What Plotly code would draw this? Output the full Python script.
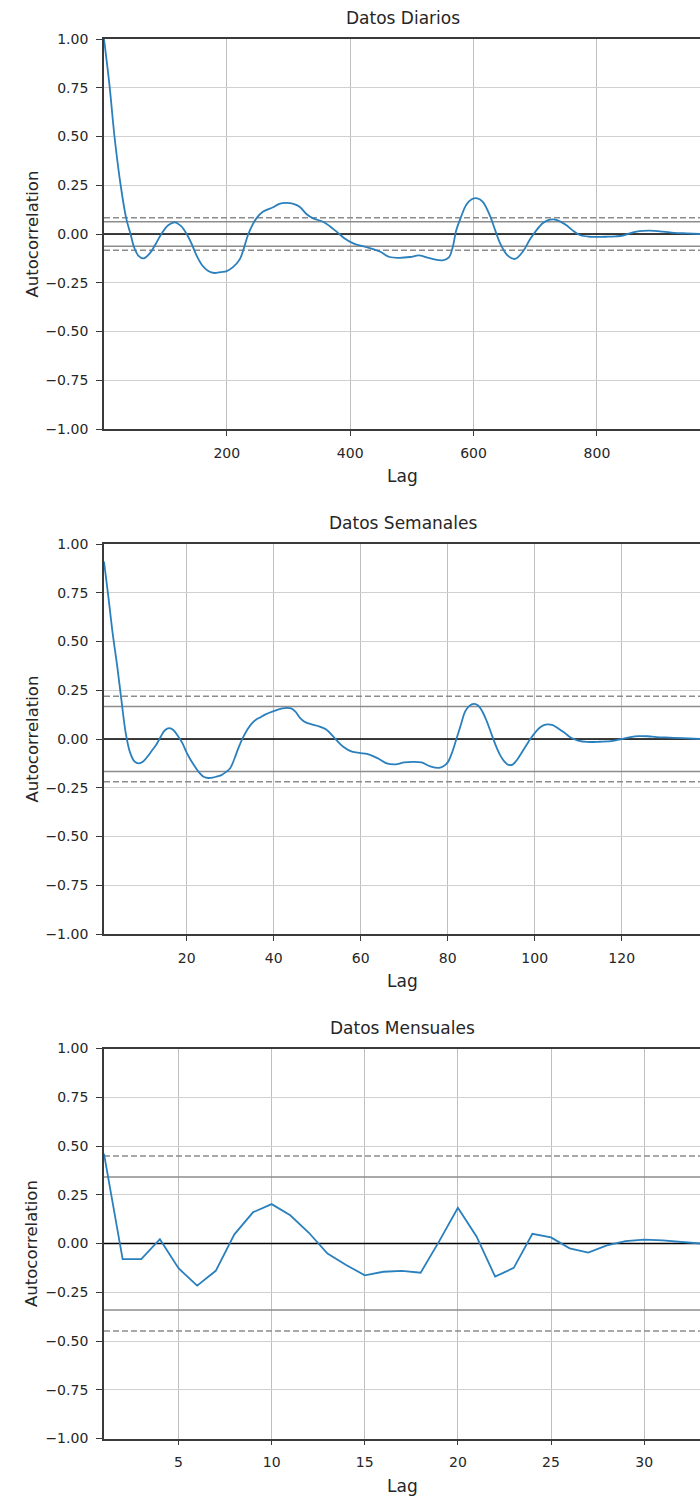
import numpy as np
import plotly.graph_objects as go

# ---------------- data ----------------
Z95 = 1.959963984540054
Z99 = 2.5758293035489004

titles = ["Datos Diarios", "Datos Semanales", "Datos Mensuales"]

daily_n = 967
daily_lag = [1, 10, 18, 28, 37, 44, 50, 57, 65, 75, 85, 94, 105, 116, 126, 135, 143, 151,
             160, 170, 180, 190, 200, 210, 221, 228, 235, 248, 259, 275, 285, 297, 308, 318,
             330, 340, 356, 367, 378, 390, 405, 427, 448, 464, 480, 497, 512, 530, 550, 560,
             566, 572, 580, 588, 597, 606, 615, 627, 635, 643, 655, 667, 680, 691, 702, 712,
             720, 729, 740, 750, 760, 772, 788, 800, 815, 830, 842, 853, 864, 875, 885, 907,
             925, 945, 967]
daily_acf = [1.0, 0.76, 0.5, 0.25, 0.08, 0.0, -0.07, -0.112, -0.125, -0.1, -0.05, 0.0, 0.045,
             0.06, 0.04, 0.0, -0.05, -0.11, -0.16, -0.19, -0.2, -0.195, -0.19, -0.17, -0.13,
             -0.07, 0.0, 0.08, 0.115, 0.137, 0.155, 0.16, 0.155, 0.14, 0.1, 0.08, 0.063, 0.04,
             0.012, -0.02, -0.048, -0.068, -0.09, -0.118, -0.122, -0.118, -0.11, -0.125,
             -0.135, -0.12, -0.07, 0.02, 0.09, 0.149, 0.178, 0.183, 0.165, 0.09, 0.02, -0.048,
             -0.11, -0.128, -0.09, -0.03, 0.02, 0.055, 0.07, 0.075, 0.065, 0.046, 0.02, -0.005,
             -0.014, -0.015, -0.014, -0.012, -0.008, 0.003, 0.012, 0.016, 0.017, 0.012, 0.006,
             0.003, 0.0]

weekly_n = 138
weekly_lag = [1, 2, 3, 4, 5, 6, 7, 8, 9, 10, 11, 12, 13, 14, 15, 16, 17, 18, 19, 20, 21, 22,
              23, 24, 25, 26, 27, 28, 29, 30, 31, 32, 33, 34, 35, 36, 37, 38, 40, 42, 43, 44,
              45, 46, 47, 48, 50, 52, 54, 56, 58, 60, 62, 64, 66, 68, 70, 72, 74, 76, 78, 79,
              80, 81, 82, 83, 84, 85, 86, 87, 88, 89, 90, 91, 92, 93, 94, 95, 96, 97, 98, 99,
              100, 101, 102, 103, 104, 105, 106, 107, 108, 109, 110, 112, 115, 118, 120, 122,
              124, 126, 128, 131, 134, 138]
weekly_acf = [0.91, 0.73, 0.54, 0.38, 0.2, 0.03, -0.07, -0.115, -0.125, -0.115, -0.09, -0.06,
              -0.03, 0.01, 0.045, 0.056, 0.045, 0.015, -0.02, -0.07, -0.11, -0.145, -0.175,
              -0.195, -0.2, -0.198, -0.192, -0.185, -0.17, -0.15, -0.1, -0.04, 0.01, 0.05,
              0.08, 0.1, 0.112, 0.125, 0.143, 0.157, 0.16, 0.157, 0.14, 0.11, 0.09, 0.08,
              0.068, 0.05, 0.005, -0.04, -0.065, -0.072, -0.08, -0.1, -0.125, -0.13, -0.12,
              -0.117, -0.12, -0.14, -0.148, -0.14, -0.12, -0.07, 0.0, 0.07, 0.14, 0.17, 0.18,
              0.172, 0.14, 0.09, 0.03, -0.03, -0.08, -0.115, -0.133, -0.13, -0.105, -0.07,
              -0.035, 0.0, 0.03, 0.055, 0.07, 0.075, 0.072, 0.06, 0.045, 0.03, 0.012, 0.0,
              -0.008, -0.015, -0.014, -0.01, 0.0, 0.01, 0.015, 0.014, 0.01, 0.007, 0.004, 0.0]

monthly_n = 33
monthly_lag = [1, 2, 3, 4, 5, 6, 7, 8, 9, 10, 11, 12, 13, 14, 15, 16, 17, 18, 19, 20, 21, 22,
               23, 24, 25, 26, 27, 28, 29, 30, 31, 32, 33]
monthly_acf = [0.46, -0.08, -0.08, 0.022, -0.127, -0.216, -0.14, 0.047, 0.16, 0.202, 0.145,
               0.055, -0.052, -0.11, -0.163, -0.145, -0.14, -0.15, 0.012, 0.183, 0.036, -0.17,
               -0.125, 0.05, 0.031, -0.025, -0.047, -0.01, 0.012, 0.02, 0.016, 0.009, 0.0]

daily_ticks = [200, 400, 600, 800]
weekly_ticks = [20, 40, 60, 80, 100, 120]
monthly_ticks = [5, 10, 15, 20, 25, 30]
y_ticks = [-1.0, -0.75, -0.5, -0.25, 0.0, 0.25, 0.5, 0.75, 1.0]

# ---------------- figure ----------------
W, H = 700, 1499
LEFT_PX = 104
TOPS_PX = [39, 544, 1048.5]
PLOT_H_PX = 390

FONT = "DejaVu Sans"
TEXT = "#262626"
SPINE = "#3a3a3a"

panels = [
    (daily_lag, daily_acf, daily_n, daily_ticks, "spline"),
    (weekly_lag, weekly_acf, weekly_n, weekly_ticks, "spline"),
    (monthly_lag, monthly_acf, monthly_n, monthly_ticks, "linear"),
]

fig = go.Figure()
layout = dict(
    width=W, height=H,
    margin=dict(l=0, r=0, t=0, b=0),
    paper_bgcolor="white", plot_bgcolor="white",
    showlegend=False,
    font=dict(family=FONT, color=TEXT, size=15),
)
annotations = []

for i, (lags, acf, n, xt, shape) in enumerate(panels):
    k = "" if i == 0 else str(i + 1)
    xa, ya = "x" + k, "y" + k
    top = 1 - TOPS_PX[i] / H
    bot = 1 - (TOPS_PX[i] + PLOT_H_PX) / H

    layout["xaxis" + k] = dict(
        domain=[LEFT_PX / W, 1.0], anchor=ya, range=[1, n],
        tickmode="array", tickvals=xt, ticks="outside", ticklen=5, tickwidth=1.2,
        tickcolor=SPINE, showline=True, linecolor=SPINE, linewidth=1.8, mirror=True,
        showgrid=True, gridcolor="#bfbfbf", gridwidth=1, zeroline=False,
        tickfont=dict(family=FONT, size=14, color=TEXT), ticklabelstandoff=5,
        automargin=False,
    )
    layout["yaxis" + k] = dict(
        domain=[bot, top], anchor=xa, range=[-1, 1],
        tickmode="array", tickvals=y_ticks, tickformat=".2f", ticks="outside",
        ticklen=6, tickwidth=1.2, tickcolor=SPINE, showline=True, linecolor=SPINE,
        linewidth=1.8, mirror=False, showgrid=True, gridcolor="#d0d0d0", gridwidth=1.3,
        zeroline=False, tickfont=dict(family=FONT, size=14, color=TEXT),
        ticklabelstandoff=5, automargin=False,
    )

    # confidence bands as pandas draws them (from n)
    lim95 = Z95 / np.sqrt(n)
    lim99 = Z99 / np.sqrt(n)
    for val, color, dash in [(lim99, "#8c8c8c", "6px,3px"), (lim95, "#8c8c8c", "solid"),
                             (0.0, "black", "solid"), (-lim95, "#8c8c8c", "solid"),
                             (-lim99, "#8c8c8c", "6px,3px")]:
        fig.add_trace(go.Scatter(x=[1, n], y=[val, val], mode="lines", xaxis=xa, yaxis=ya,
                                 line=dict(color=color, width=1.5, dash=dash),
                                 hoverinfo="skip"))

    line = dict(color="#2a7fbd", width=1.8, shape=shape)
    if shape == "spline":
        line["smoothing"] = 1.0
    fig.add_trace(go.Scatter(x=lags, y=acf, mode="lines", xaxis=xa, yaxis=ya,
                             line=line, hoverinfo="skip"))

    annotations.append(dict(text=titles[i], xref=xa + " domain", x=0.5015, yref=ya + " domain",
                            y=1, yanchor="bottom", yshift=9, showarrow=False,
                            font=dict(family=FONT, size=17, color=TEXT)))
    annotations.append(dict(text="Lag", xref=xa + " domain", x=0.5, yref=ya + " domain",
                            y=0, yanchor="top", yshift=-35, showarrow=False,
                            font=dict(family=FONT, size=17, color=TEXT)))
    annotations.append(dict(text="Autocorrelation", xref="paper", x=20 / W,
                            yref=ya + " domain", y=0.5, textangle=-90, showarrow=False,
                            font=dict(family=FONT, size=16.5, color=TEXT)))

layout["annotations"] = annotations
fig.update_layout(**layout)

fig.write_html("out.html")
